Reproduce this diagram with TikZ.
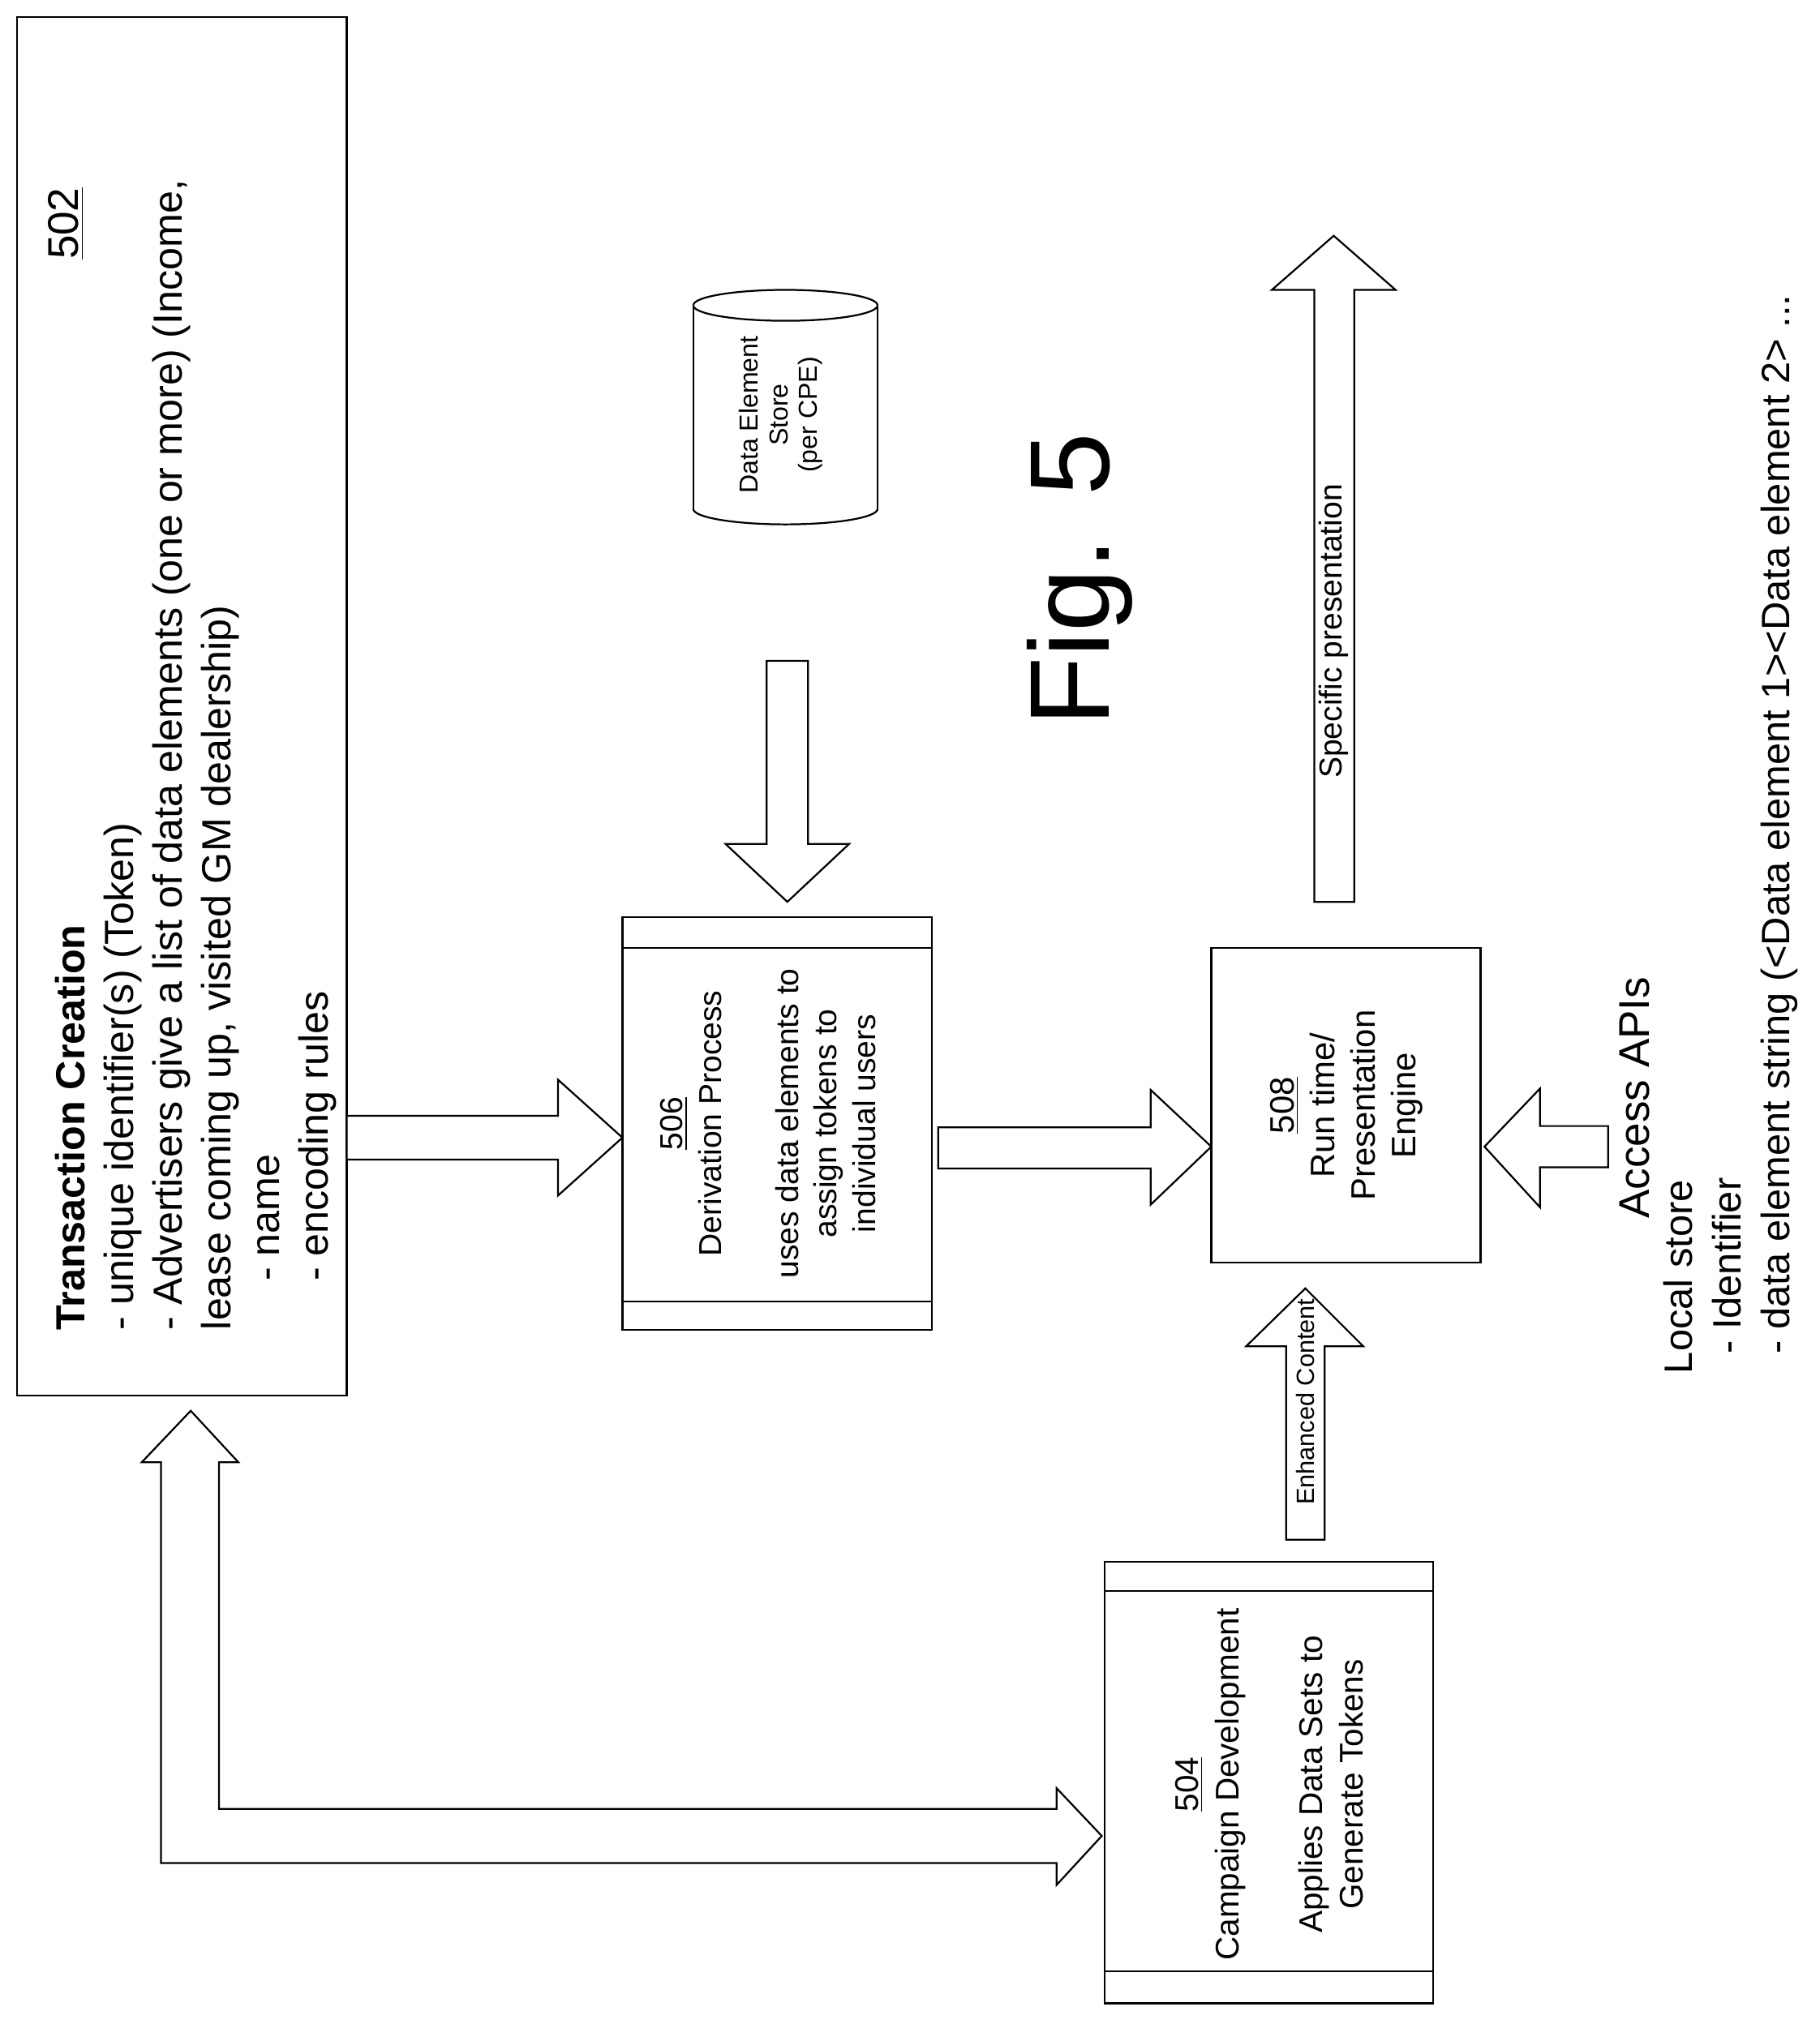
\documentclass[tikz,border=0pt]{standalone}
\usepackage{fontspec}
\setmainfont{Liberation Sans}
\begin{document}
\begin{tikzpicture}[x=0.02cm,y=-0.02cm,line width=0.8pt,
  box/.style={draw},
  barr/.style={draw,fill=white,line join=miter},
  rt/.style={rotate=90,align=center,inner sep=0pt}]
\useasboundingbox (0,0) rectangle (1412,1571);
% 502
\draw[box] (13,13) rectangle (269,1083);
\node[rt,anchor=north east,font=\fontsize{19}{23}\selectfont] at (37,145) {\underline{502}};
\node[rt,anchor=south west,align=left,font=\fontsize{18}{21.5}\selectfont] at (262,1033) {\textbf{Transaction Creation}\\
- unique identifier(s) (Token)\\
- Advertisers give a list of data elements (one or more) (Income,\\
lease coming up, visited GM dealership)\\
\hspace{1.2em}- name\\
\hspace{1.2em}- encoding rules};
% arrow 502->506
\draw[barr] (269,866)--(433,866)--(433,838)--(483,883)--(433,928)--(433,900)--(269,900)--cycle;
% 506
\draw[box] (483,712) rectangle (723,1032);
\draw (483,736)--(723,736) (483,1010)--(723,1010);
\node[rt,font=\fontsize{14}{17}\selectfont] at (596,872) {\underline{506}\\Derivation Process\\[17pt]uses data elements to\\assign tokens to\\individual users};
% cylinder
\draw (538,237)--(538,395) (681,237)--(681,395);
\draw (538,237) arc[start angle=180,end angle=360,x radius=71.5,y radius=-12];
\draw (538,237) arc[start angle=180,end angle=0,x radius=71.5,y radius=-12];
\draw (538,395) arc[start angle=180,end angle=360,x radius=71.5,y radius=-12];
\node[rt,font=\fontsize{11.5}{13}\selectfont] at (606,322) {Data Element\\Store\\(per CPE)};
% arrow down
\draw[barr] (595,513)--(627,513)--(627,655)--(659,655)--(611,700)--(563,655)--(595,655)--cycle;
% Fig 5
\node[rt,font=\fontsize{50}{60}\selectfont] at (838,450) {Fig. 5};
% arrow 506->508
\draw[barr] (728,875)--(893,875)--(893,846)--(940,890)--(893,935)--(893,907)--(728,907)--cycle;
% 508
\draw[box] (940,736) rectangle (1149,980);
\node[rt,font=\fontsize{15}{18}\selectfont] at (1045,858) {\underline{508}\\Run time/\\Presentation\\Engine};
% arrow up specific
\draw[barr] (1020,700)--(1020,225)--(987,225)--(1035,183)--(1083,225)--(1051,225)--(1051,700)--cycle;
\node[rt,font=\fontsize{14}{17}\selectfont] at (1035,490) {Specific presentation};
% arrow from right
\draw[barr] (1248,874)--(1195,874)--(1195,845)--(1152,890)--(1195,937)--(1195,906)--(1248,906)--cycle;
\node[rt,anchor=south,font=\fontsize{19}{23}\selectfont] at (1281,852) {Access APIs};
\node[rt,anchor=south west,align=left,font=\fontsize{17.5}{21.5}\selectfont] at (1396,1067) {Local store\\
\hspace{0.5em}- Identifier\\
\hspace{0.5em}- data element string (<Data element 1><Data element 2> ...};
% arrow enhanced content
\draw[barr] (998,1195)--(998,1045)--(967,1045)--(1013,1000)--(1058,1045)--(1028,1045)--(1028,1195)--cycle;
\node[rt,font=\fontsize{11}{13}\selectfont] at (1013,1088) {Enhanced Content};
% 504
\draw[box] (857,1212) rectangle (1112,1555);
\draw (857,1235)--(1112,1235) (857,1530)--(1112,1530);
\node[rt,font=\fontsize{14.5}{18}\selectfont] at (985,1385) {\underline{504}\\Campaign Development\\[19pt]Applies Data Sets to\\Generate Tokens};
% double arrow
\draw[barr] (125,1135)--(110,1135)--(148,1095)--(185,1135)--(170,1135)--(170,1404)--(820,1404)--(820,1388)--(855,1425)--(820,1463)--(820,1446)--(125,1446)--cycle;
\end{tikzpicture}
\end{document}
